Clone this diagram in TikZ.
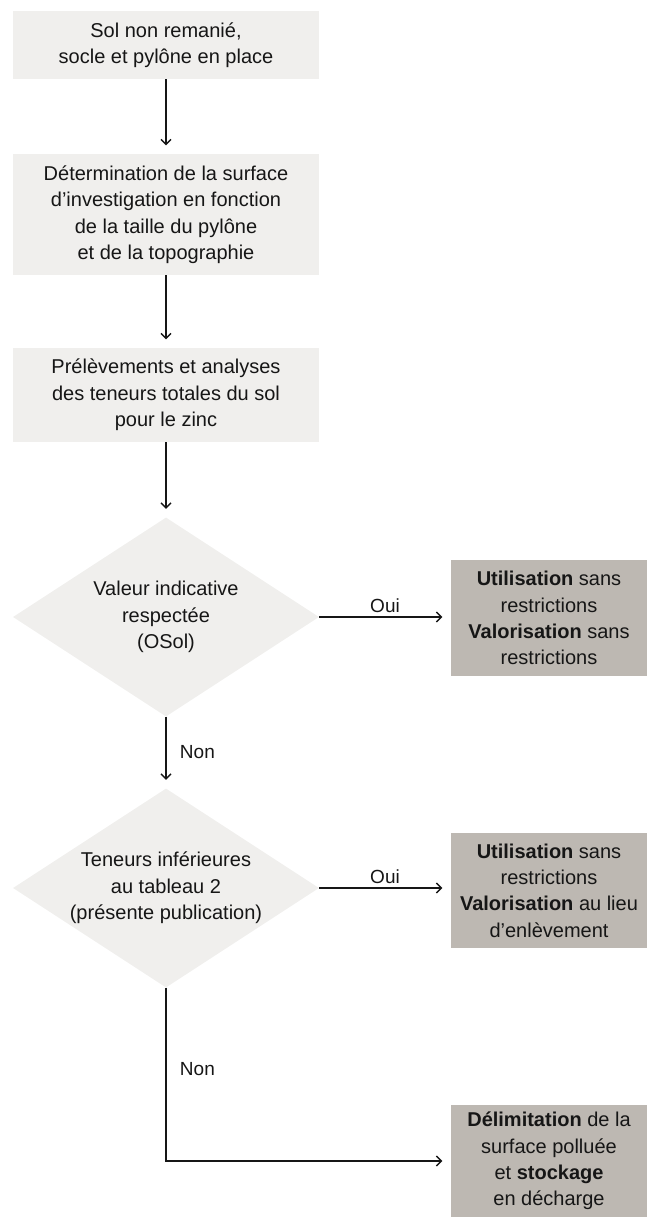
\documentclass[tikz,border=0pt]{standalone}
\usepackage{fontspec}
\setmainfont{Liberation Sans}
\usetikzlibrary{shapes.geometric,arrows.meta}
\definecolor{lightbox}{RGB}{240,239,237}
\definecolor{darkbox}{RGB}{189,184,178}
\definecolor{ink}{RGB}{22,22,22}
\tikzset{
  procbox/.style={fill=lightbox, minimum width=306pt, inner sep=0pt, align=center, text=ink,
    font=\fontsize{20}{26.5}\selectfont},
  resbox/.style={fill=darkbox, minimum width=196pt, inner sep=0pt, align=center, text=ink,
    font=\fontsize{20}{26.3}\selectfont},
  decision/.style={diamond, fill=lightbox, minimum width=306pt, minimum height=199pt, inner sep=0pt, aspect=1.53},
  dtext/.style={align=center, text=ink, inner sep=0pt, font=\fontsize{20}{26.3}\selectfont},
  conn/.style={draw=ink, line width=1.3pt, -{Straight Barb[length=5pt,width=10pt]}, shorten >=8.5pt},
  edgelabel/.style={text=ink, font=\fontsize{19}{23}\selectfont}
}
\begin{document}
\begin{tikzpicture}[x=1pt,y=-1pt]
\useasboundingbox (0,0) rectangle (647,1217);
\node[procbox, minimum height=68pt] (b1) at (166,45) {Sol non remanié,\\socle et pylône en place};
\node[procbox, minimum height=121pt] (b2) at (166,214.5) {Détermination de la surface\\d’investigation en fonction\\de la taille du pylône\\et de la topographie};
\node[procbox, minimum height=94pt] (b3) at (166,395) {Prélèvements et analyses\\des teneurs totales du sol\\pour le zinc};
\node[decision] (d1) at (166,617) {};
\node[dtext] (t1) at (d1.center) {Valeur indicative\\respectée\\(OSol)};
\node[decision] (d2) at (166,888) {};
\node[dtext] (t2) at (d2.center) {Teneurs inférieures\\au tableau 2\\(présente publication)};
\node[resbox, minimum height=116pt] (r1) at (549,618) {\textbf{Utilisation} sans\\restrictions\\\textbf{Valorisation} sans\\restrictions};
\node[resbox, minimum height=115pt] (r2) at (549,890.5) {\textbf{Utilisation} sans\\restrictions\\\textbf{Valorisation} au lieu\\d’enlèvement};
\node[resbox, minimum height=112pt] (r3) at (549,1161) {\textbf{Délimitation} de la\\surface polluée\\et \textbf{stockage}\\en décharge};
\coordinate (corner) at (d2.south |- r3.west);

\draw[conn] (b1.south) -- (b2.north);
\draw[conn] (b2.south) -- (b3.north);
\draw[conn] (b3.south) -- (d1.north);
\draw[conn] (d1.south) -- node[edgelabel, right, xshift=10pt]{Non} (d2.north);
\draw[conn] (d1.east) -- node[edgelabel, above, inner sep=4pt]{Oui} (d1.east -| r1.west);
\draw[conn] (d2.east) -- node[edgelabel, above, inner sep=4pt]{Oui} (d2.east -| r2.west);
\draw[conn] (d2.south) -- node[edgelabel, right, xshift=10pt, pos=0.47]{Non} (corner) -- (r3.west);
\end{tikzpicture}
\end{document}
